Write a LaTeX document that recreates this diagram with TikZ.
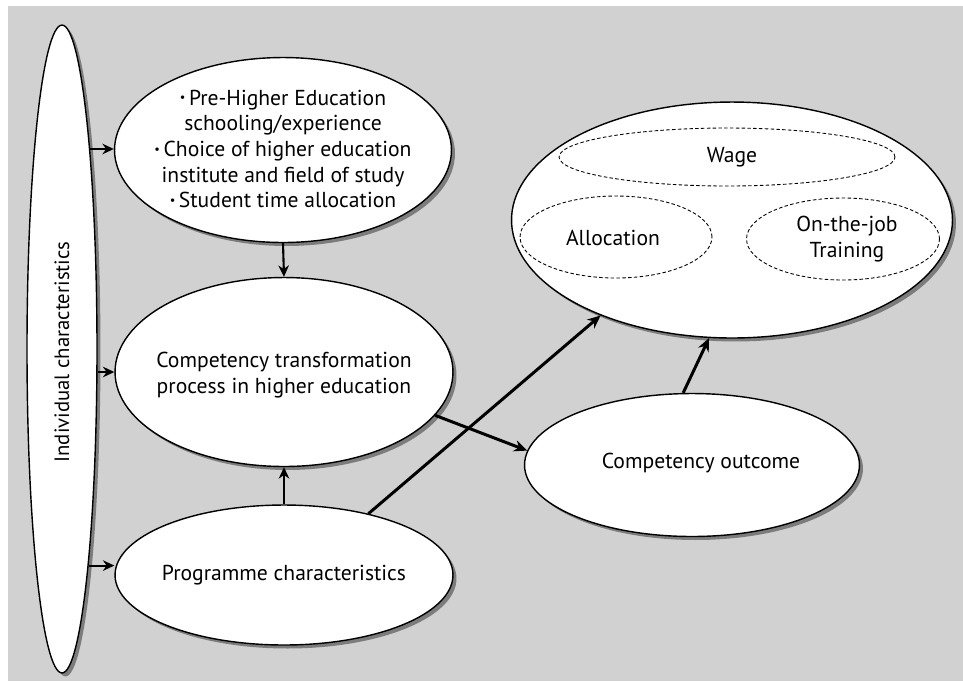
\documentclass[tikz,border=0pt]{standalone}
\usepackage{fontspec}
\setmainfont{PT Sans}
\usetikzlibrary{positioning,arrows.meta,shapes.geometric,shadows}
\newcommand{\bul}{\raisebox{0.3ex}{\scriptsize\textbullet}\,}

\begin{document}
\begin{tikzpicture}[x=0.02cm, y=-0.02cm,
    bubble/.style={ellipse, draw, line width=0.8pt, fill=white, inner sep=0pt,
      drop shadow={shadow xshift=0.07cm, shadow yshift=-0.07cm, fill=black!55, opacity=0.9}},
    subbubble/.style={ellipse, draw, line width=0.5pt, dash pattern=on 2pt off 1.3pt, inner sep=0pt},
    txt/.style={align=center, font=\fontsize{12.3}{14.6}\selectfont},
    arr/.style={-{Stealth[length=6.5pt,width=6pt]}, line width=1.2pt},
    bigarr/.style={-{Stealth[length=7.5pt,width=6.5pt]}, line width=1.7pt}]
    \useasboundingbox (0,0) rectangle (963,681);
    \fill[black!18] (8,6) rectangle (963,681);

    \node[bubble, minimum width=1.4cm, minimum height=12.96cm] (indiv) at (62,349) {};
    \node[bubble, minimum width=6.74cm, minimum height=3.7cm] (pre) at (283,150) {};
    \node[bubble, minimum width=6.76cm, minimum height=3.78cm] (transf) at (284,372) {};
    \node[bubble, minimum width=6.76cm, minimum height=2.8cm] (prog) at (284,575) {};
    \node[bubble, minimum width=6.7cm, minimum height=2.86cm] (outcome) at (692,465) {};
    \node[bubble, minimum width=8.82cm, minimum height=4.72cm] (market) at (732,220) {};

    \node[subbubble, minimum width=6.72cm, minimum height=1.16cm] (wage) at (727,157) {};
    \node[subbubble, minimum width=3.84cm, minimum height=1.64cm] (alloc) at (616,237) {};
    \node[subbubble, minimum width=3.86cm, minimum height=1.64cm] (training) at (843,239) {};

    \node[rotate=90, font=\fontsize{11.8}{13}\selectfont] (indivtxt) at (62,352) {Individual characteristics};
    \node[txt] (pretxt) at (283,149) {\bul Pre-Higher Education\\ schooling/experience\\ \bul Choice of higher education\\ institute and field of study\\ \bul Student time allocation};
    \node[txt] (transftxt) at (284,375) {Competency transformation\\ process in higher education};
    \node[txt] (progtxt) at (284,575) {Programme characteristics};
    \node[txt] (outcometxt) at (701,463) {Competency outcome};
    \node[txt] (wagetxt) at (732,157) {Wage};
    \node[txt] (alloctxt) at (613,238) {Allocation};
    \node[txt] (trainingtxt) at (847,239) {On-the-job\\ Training};

    \draw[arr] (indiv.82.7) -- (indiv.82.7 -| pre.west);
    \draw[arr] (transf.west -| indiv.east) -- (transf.west);
    \draw[arr] (indiv.-83.7) -- (indiv.-83.7 -| prog.west);
    \draw[arr] (pre.south) -- (transf.north);
    \draw[arr] (prog.north) -- (transf.south);
    \draw[bigarr] (transf.-16) -- (outcome.175.5);
    \draw[bigarr] (prog.36.4) -- (market.216.7);
    \draw[bigarr] (outcome.97) -- (market.259.6);
\end{tikzpicture}
\end{document}
